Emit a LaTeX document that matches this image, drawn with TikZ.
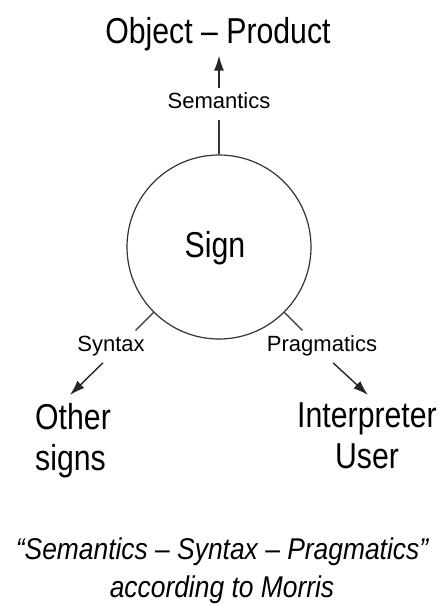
\documentclass[tikz,border=0pt]{standalone}
\usepackage{fontspec}
\setmainfont{Liberation Sans}
\newfontfamily\condfont{Liberation Sans}[FakeStretch=0.84]
\newfontfamily\capfont{Liberation Sans}[FakeStretch=0.88]
\usetikzlibrary{arrows.meta,positioning,calc}
\tikzset{
  bigtxt/.style={font=\condfont\fontsize{36}{41}\selectfont, inner sep=0pt},
  lbl/.style={font=\fontsize{22}{24}\selectfont, inner sep=0pt},
  captxt/.style={font=\capfont\itshape\fontsize{30}{38}\selectfont, inner sep=0pt, align=center},
  signc/.style={circle, draw=black!80, line width=1.2pt, minimum size=184pt, inner sep=0pt},
  arr/.style={-{Latex[length=15pt,width=10pt]}, draw=black!85, line width=1.4pt},
  tick/.style={draw=black!80, line width=1.2pt},
}

\begin{document}
\begin{tikzpicture}[x=1pt, y=1pt]
  \useasboundingbox (0,0) rectangle (443,-606);
  % the sign
  \node[signc] (sign) at (219,-247) {};
  \node[bigtxt, anchor=base] (signtxt) at (215,-257) {Sign};
  % semantics, up to the object
  \node[bigtxt, anchor=base] (obj) at (218,-43) {Object – Product};
  \node[lbl, anchor=base] (sem) at (219,-108) {Semantics};
  \coordinate (semtick) at (219,-120);
  \draw[tick] (sign.north) -- (semtick);
  \draw[arr, shorten <=4pt] (sem.north) -- ([yshift=-5pt]sem.north |- obj.south);
  % syntax and pragmatics
  \node[lbl, anchor=base] (syn) at (111,-351) {Syntax};
  \node[lbl, anchor=base] (prag) at (322,-351) {Pragmatics};
  \coordinate (syntick) at ($(sign.center)+(225:118)$);
  \coordinate (pragtick) at ($(sign.center)+(315:118)$);
  \draw[tick] (sign.225) -- (syntick);
  \draw[tick] (sign.315) -- (pragtick);
  \node[bigtxt, align=left, anchor=north west] (other) at (35,-403) {Other\\signs};
  \node[bigtxt, align=center, anchor=north] (interp) at (367,-403) {Interpreter\\User};
  \draw[arr] ([xshift=-8pt, yshift=-7pt]syn.south) -- ([xshift=35pt, yshift=8pt]other.north west);
  \draw[arr] ([xshift=11pt, yshift=-7pt]prag.south) -- ([xshift=1pt, yshift=8pt]interp.north);
  % caption
  \node[captxt, anchor=north] (cap) at (222,-538) {“Semantics – Syntax – Pragmatics”\\according to Morris};
\end{tikzpicture}
\end{document}
